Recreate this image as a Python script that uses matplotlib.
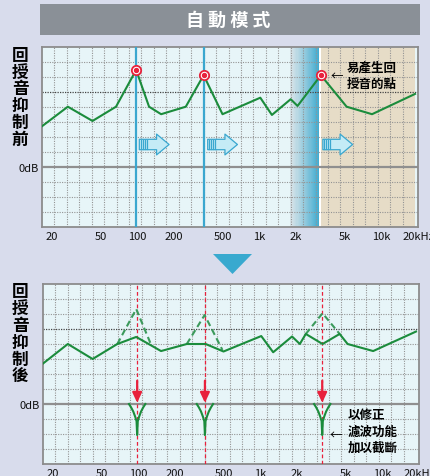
import numpy as np
import matplotlib.pyplot as plt
from matplotlib.patches import Rectangle, Polygon

plt.rcParams['font.family'] = ['Noto Sans CJK TC', 'DejaVu Sans']

# 資料
freq_ticks = [20, 50, 100, 200, 500, 1000, 2000, 5000, 10000, 20000]
freq_labels = ['20', '50', '100', '200', '500', '1k', '2k', '5k', '10k', '20kHz']

# 抑制前的頻率響應
before_f = [16.6, 27, 43, 67, 98, 125, 157, 250, 350, 500, 1020, 1270, 1810, 2060, 3200, 5200, 8400, 18900]
before_db = [2.7, 4.0, 3.05, 4.0, 6.45, 4.0, 3.5, 4.0, 6.1, 3.5, 4.6, 3.45, 4.5, 4.05, 6.1, 4.0, 3.5, 4.85]

# 抑制後的頻率響應
after_f = [16.6, 26.5, 42.3, 67.4, 96.3, 153.8, 250, 357, 500, 1019, 1276, 1822, 2111, 2362, 3240, 4474, 5200, 8420, 18900]
after_db = [2.7, 4.0, 3.0, 4.0, 4.47, 3.53, 4.0, 4.0, 3.5, 4.53, 3.45, 4.5, 4.0, 4.67, 4.0, 4.67, 4.0, 3.53, 4.83]

# 原本的峰值 (虛線)
ghost_f = [[67.4, 96.3, 127.5], [250, 350, 490], [2362, 3240, 4474]]
ghost_db = [[4.0, 6.33, 3.95], [4.0, 5.93, 3.6], [4.67, 6.05, 4.67]]

# 回授點
peak_f = [98, 352, 3220]
peak_db = [6.45, 6.1, 6.1]

# 陷波濾波器形狀 (十進位偏移, dB)
notch_off = [-0.067, -0.05, -0.032, -0.016, -0.005, 0.0, 0.005, 0.016, 0.032, 0.05, 0.067]
notch_db = [0.0, -0.22, -0.5, -0.85, -1.15, -2.07, -1.15, -0.85, -0.5, -0.22, 0.0]

# 箭頭起點 (Hz)
arrow_f = [104, 378, 3320]

xmin, xmax = 16.58, 18900
green = '#1b8c3c'
blue = '#3aa7cf'
red = '#e8213c'
bg = '#d8dcec'

fig = plt.figure(figsize=(4.31, 4.77), dpi=100)
fig.patch.set_facecolor(bg)


def fx(px):
    return px / 431


def fy(py):
    return 1 - py / 477


def setup(ax):
    ax.set_xscale('log')
    ax.set_xlim(xmin, xmax)
    ax.set_ylim(-4, 8)
    ax.set_facecolor('#e7f5f8')
    ax.set_xticks(freq_ticks)
    ax.set_xticklabels(freq_labels)
    ax.minorticks_off()
    ax.set_yticks([0])
    ax.set_yticklabels(['0dB'])
    ax.tick_params(length=0, labelsize=8, pad=3, colors='#111111')
    ax.tick_params(axis='y', pad=2)
    for s in ax.spines.values():
        s.set_color('#8c8c8c')
        s.set_linewidth(1.3)
    # 格線
    for g in np.logspace(np.log10(xmin), np.log10(xmax), 31)[1:-1]:
        ax.axvline(g, color='#949494', lw=0.8, ls=(0, (1, 1.2)), zorder=1)
    for h in range(-3, 8):
        if h == 0:
            ax.axhline(h, color='#8f8f8f', lw=1.6, zorder=2)
        elif h == 5:
            ax.axhline(h, color='#444444', lw=0.9, ls=(0, (1, 1)), zorder=2)
        else:
            ax.axhline(h, color='#949494', lw=0.8, ls=(0, (1, 1.2)), zorder=1)


# 標題
fig.patches.append(Rectangle((fx(40), fy(36)), fx(380), 31 / 477, transform=fig.transFigure,
                             facecolor='#8a9097', edgecolor='none'))
fig.text(fx(228), fy(20.5), '自 動 模 式', color='white', fontsize=13, fontweight='bold',
         ha='center', va='center')

# 中間三角形
fig.patches.append(Polygon([(fx(213), fy(255)), (fx(252), fy(255)), (fx(232.5), fy(275))],
                           closed=True, transform=fig.transFigure, facecolor='#38a9cf', edgecolor='none'))

# 上圖
ax1 = fig.add_axes([fx(42), fy(227.7), 376 / 431, 180 / 477])
setup(ax1)

# 漸層與米色區域
c0 = np.array([0.84, 0.89, 0.91])
c1 = np.array([0.27, 0.68, 0.82])
edges = np.logspace(np.log10(1800), np.log10(3080), 25)
for i in range(len(edges) - 1):
    t = (i / (len(edges) - 2)) ** 1.1
    ax1.axvspan(edges[i], edges[i + 1], color=c0 + (c1 - c0) * t, lw=0, zorder=0.5)
ax1.axvspan(3080, 3225, color='white', lw=0, zorder=0.5)
ax1.axvspan(3225, xmax, color='#e6dcc7', lw=0, zorder=0.5)

for f in peak_f[:2]:
    ax1.axvline(f, color=blue, lw=1.6, zorder=3)

ax1.plot(before_f, before_db, color=green, lw=1.5, zorder=4)
ax1.scatter(peak_f, peak_db, s=45, facecolor='white', edgecolor=red, lw=1.3, zorder=5)
ax1.scatter(peak_f, peak_db, s=8, color=red, zorder=6)

# 藍色箭頭
for f in arrow_f:
    f_end = f * 10 ** (30 / 123)
    ax1.annotate('', xy=(f_end, 1.48), xytext=(f, 1.48),
                 arrowprops=dict(arrowstyle='simple,head_length=0.6,head_width=1.0,tail_width=0.5',
                                 fc='#c4ebf6', ec=blue, lw=0.9, mutation_scale=15,
                                 shrinkA=0, shrinkB=0), zorder=5)
    for k in range(4):
        fs = f * 10 ** ((1.5 + 2 * k) / 123)
        ax1.plot([fs, fs], [1.18, 1.78], color=blue, lw=0.9, zorder=6)

ax1.text(0.785, 0.843, '←', transform=ax1.transAxes, fontsize=9, ha='center', va='center')
ax1.text(0.811, 0.84, '易產生回\n授音的點', transform=ax1.transAxes, fontsize=9,
         fontweight='bold', ha='left', va='center', linespacing=1.35)

# 下圖
ax2 = fig.add_axes([fx(43), fy(465), 376 / 431, 180 / 477])
setup(ax2)

for f in peak_f:
    ax2.axvline(f, color=red, lw=0.9, ls=(0, (3, 2)), zorder=3)

for gf, gd in zip(ghost_f, ghost_db):
    ax2.plot(gf, gd, color='#3c9a5c', lw=1.5, ls=(0, (3, 1.8)), zorder=4)
ax2.plot(after_f, after_db, color=green, lw=1.5, zorder=4)

for f in peak_f:
    nf = [f * 10 ** o for o in notch_off]
    ax2.plot(nf, notch_db, color=green, lw=1.5, zorder=4)
    ax2.annotate('', xy=(f, 0.08), xytext=(f, 1.55),
                 arrowprops=dict(arrowstyle='-|>,head_length=0.6,head_width=0.28', color=red,
                                 lw=1.6, mutation_scale=10, shrinkA=0, shrinkB=0), zorder=5)

ax2.text(0.778, 0.163, '←', transform=ax2.transAxes, fontsize=9, ha='center', va='center')
ax2.text(0.81, 0.183, '以修正\n濾波功能\n加以截斷', transform=ax2.transAxes, fontsize=9,
         fontweight='bold', ha='left', va='center', linespacing=1.35)

# 左側直排標籤
for i, ch in enumerate('回授音抑制前'):
    fig.text(fx(20), fy(56 + 16.7 * i), ch, fontsize=12, fontweight='bold', ha='center', va='center')
for i, ch in enumerate('回授音抑制後'):
    fig.text(fx(20), fy(292.5 + 16.9 * i), ch, fontsize=12, fontweight='bold', ha='center', va='center')

fig.savefig('out.png', dpi=100, facecolor=bg)
